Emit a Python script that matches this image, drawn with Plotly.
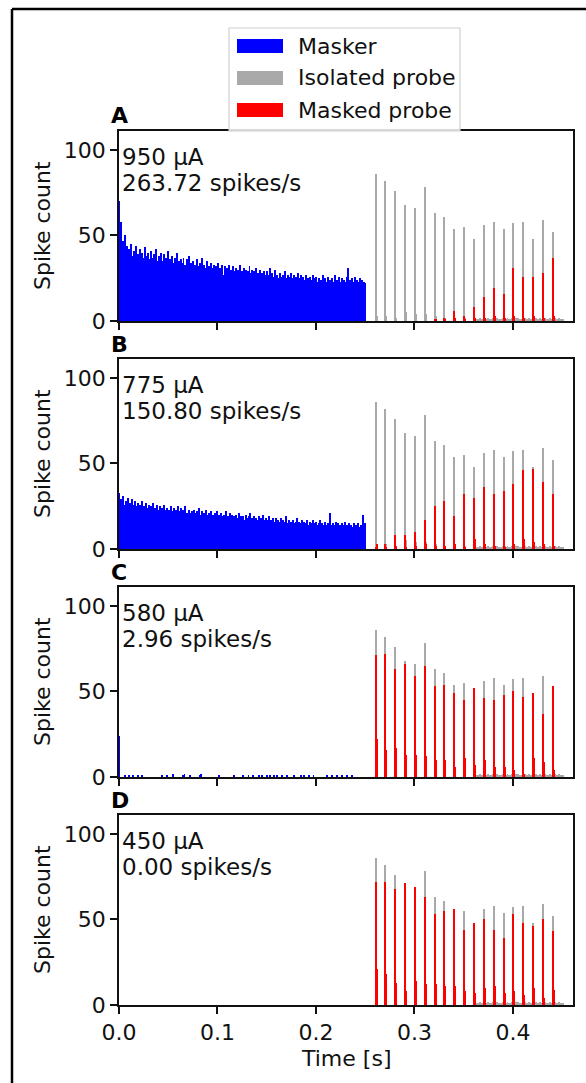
import plotly.graph_objects as go

W, H = 586, 1083

# masker PSTH, 1 ms bins from 0 to 0.25 s
masker_a = [
    70, 30, 58, 41, 47, 23, 50, 36, 44, 39, 42, 35, 45, 38, 33, 41, 37, 44, 34, 39, 36, 42, 33, 40, 37,
    35, 43, 31, 38, 40, 34, 36, 41, 30, 37, 39, 33, 42, 35, 31, 38, 36, 40, 32, 35, 39, 30, 37, 34, 41,
    33, 36, 29, 38, 34, 31, 37, 33, 40, 30, 35, 32, 36, 28, 34, 37, 31, 33, 29, 36, 32, 38, 30, 34, 31,
    35, 29, 33, 31, 36, 28, 32, 34, 30, 37, 29, 33, 31, 27, 35, 30, 32, 28, 34, 31, 29, 33, 27, 32, 30,
    34, 28, 31, 29, 33, 27, 18, 32, 29, 31, 26, 33, 28, 30, 27, 32, 29, 26, 31, 28, 30, 25, 33, 27, 29,
    28, 31, 26, 30, 24, 29, 27, 32, 25, 28, 30, 26, 29, 24, 31, 27, 28, 25, 30, 26, 28, 23, 29, 27, 25,
    29, 24, 27, 31, 25, 28, 23, 26, 30, 24, 27, 25, 22, 28, 26, 6, 27, 24, 29, 25, 23, 27, 26, 24, 28,
    25, 22, 27, 24, 26, 21, 28, 23, 25, 27, 22, 26, 24, 20, 27, 23, 25, 22, 26, 24, 21, 27, 23, 25, 22,
    26, 23, 21, 25, 13, 24, 22, 27, 20, 25, 23, 21, 26, 22, 24, 19, 25, 23, 21, 27, 22, 24, 20, 26, 23,
    21, 25, 22, 24, 20, 23, 26, 31, 22, 24, 20, 25, 23, 21, 26, 22, 24, 19, 23, 25, 21, 24, 22, 23, 22,
]
masker_b = [
    33, 20, 29, 24, 31, 26, 22, 28, 25, 30, 23, 27, 24, 29, 22, 26, 28, 23, 25, 27, 21, 26, 24, 28, 22,
    25, 23, 27, 21, 24, 26, 20, 25, 23, 27, 22, 24, 21, 26, 23, 20, 25, 22, 24, 21, 26, 23, 19, 24, 22,
    23, 20, 25, 22, 19, 24, 21, 23, 20, 25, 18, 22, 24, 20, 23, 19, 22, 25, 20, 21, 18, 23, 21, 19, 22,
    20, 23, 18, 21, 22, 19, 24, 20, 17, 22, 19, 21, 18, 23, 20, 17, 21, 19, 22, 18, 20, 17, 21, 19, 22,
    18, 20, 17, 21, 19, 16, 20, 18, 22, 17, 19, 16, 21, 18, 20, 15, 19, 17, 20, 16, 18, 21, 17, 19, 16,
    19, 17, 15, 20, 18, 16, 19, 17, 21, 15, 18, 16, 19, 14, 18, 17, 15, 19, 16, 18, 15, 20, 17, 16, 18,
    15, 17, 19, 14, 17, 15, 18, 16, 14, 18, 15, 17, 13, 16, 18, 15, 17, 14, 16, 19, 15, 13, 17, 15, 16,
    14, 17, 15, 13, 16, 18, 14, 16, 13, 15, 17, 14, 16, 12, 15, 17, 14, 13, 16, 15, 12, 17, 14, 15, 13,
    16, 14, 12, 15, 17, 13, 15, 14, 12, 16, 14, 13, 15, 12, 21, 14, 13, 15, 12, 14, 16, 13, 15, 12, 14,
    13, 15, 12, 14, 16, 11, 14, 13, 15, 12, 14, 13, 11, 15, 13, 14, 12, 15, 13, 11, 14, 12, 20, 13, 15,
]
# panel C masker is almost silent: only the non-empty bins (ms index)
masker_c_bins = [0, 6, 10, 14, 19, 23, 43, 48, 54, 64, 66, 72, 82, 83, 101, 116, 125, 131, 136,
                 142, 145, 150, 153, 157, 160, 165, 170, 177, 184, 187, 192, 197, 211, 216, 221,
                 226, 231, 236]
masker_c_counts = [24, 1, 1, 1, 1, 1, 1, 1, 2, 1, 2, 1, 1, 2, 1, 1, 1, 1, 1,
                   1, 1, 1, 1, 1, 1, 1, 1, 1, 1, 1, 1, 1, 1, 1, 1,
                   1, 1, 1]

# probe pulse onsets [s]
probe_onsets = [0.26, 0.27, 0.28, 0.29, 0.30, 0.31, 0.32, 0.33, 0.34, 0.35,
                0.36, 0.37, 0.38, 0.39, 0.40, 0.41, 0.42, 0.43, 0.44]

# isolated probe (same in every panel): first and second bin after each pulse
iso_peak = [86, 82, 76, 68, 66, 78, 63, 61, 54, 55, 48, 56, 58, 54, 57, 58, 48, 59, 52]
iso_second = [3, 3, 2, 5, 4, 4, 3, 2, 2, 2, 1, 2, 1, 2, 2, 1, 2, 1, 2]
iso_tail_ms = [362, 364, 366, 368, 372, 374, 375, 377, 379, 382, 383, 385, 387, 389,
               392, 394, 396, 397, 399, 402, 403, 405, 407, 409, 412, 414, 416, 418,
               422, 423, 425, 427, 429, 432, 434, 435, 437, 439, 442, 444, 446, 448, 450]
iso_tail_counts = [1, 1, 2, 1, 1, 2, 1, 1, 2, 1, 2, 1, 1, 2,
                   1, 2, 1, 1, 2, 1, 2, 2, 1, 1, 2, 1, 2, 1,
                   1, 2, 1, 2, 1, 2, 1, 1, 2, 1, 2, 1, 2, 1, 1]

# masked probe per panel
masked_peak_a = [0, 0, 0, 0, 0, 0, 1, 2, 6, 3, 8, 14, 19, 16, 31, 26, 26, 28, 37]
masked_second_a = [0, 0, 0, 0, 0, 0, 1, 1, 2, 1, 2, 2, 3, 2, 3, 2, 3, 2, 3]
masked_peak_b = [1, 3, 8, 8, 10, 17, 25, 28, 19, 32, 30, 36, 32, 34, 38, 46, 47, 39, 32]
masked_second_b = [3, 1, 2, 1, 2, 3, 2, 2, 3, 1, 6, 3, 2, 1, 3, 6, 4, 3, 2]
masked_peak_c = [71, 72, 63, 66, 59, 65, 53, 54, 49, 45, 52, 46, 45, 48, 50, 47, 49, 37, 53]
masked_second_c = [22, 16, 17, 13, 13, 12, 10, 10, 6, 11, 7, 10, 6, 6, 4, 2, 11, 9, 4]
masked_peak_d = [72, 72, 68, 71, 69, 63, 53, 55, 56, 44, 48, 50, 44, 39, 53, 48, 46, 50, 43]
masked_second_d = [21, 18, 13, 8, 14, 12, 12, 11, 11, 8, 7, 10, 11, 7, 8, 6, 10, 4, 9]

panel_letters = ["A", "B", "C", "D"]
currents = ["950 µA", "775 µA", "580 µA", "450 µA"]
rates = ["263.72 spikes/s", "150.80 spikes/s", "2.96 spikes/s", "0.00 spikes/s"]
x_ticks = [0.0, 0.1, 0.2, 0.3, 0.4]
x_ticktext = ["0.0", "0.1", "0.2", "0.3", "0.4"]
y_ticks = [0, 50, 100]

BLUE, GRAY, RED = "#0000ff", "#a9a9a9", "#ff0000"
FONT = "DejaVu Sans"
FS = 22


def px(x):
    return x / W


def py(y):
    return 1 - y / H


# build masker series for each panel
masker_c = [0] * 250
for b, c in zip(masker_c_bins, masker_c_counts):
    masker_c[b] = c
maskers = [masker_a, masker_b, masker_c, []]
masked = [(masked_peak_a, masked_second_a), (masked_peak_b, masked_second_b),
          (masked_peak_c, masked_second_c), (masked_peak_d, masked_second_d)]

# isolated probe histogram (x = bin centres)
iso_x = [t + 0.0005 for t in probe_onsets] + [t + 0.0015 for t in probe_onsets] \
    + [m * 0.001 + 0.0005 for m in iso_tail_ms]
iso_y = iso_peak + iso_second + iso_tail_counts

fig = go.Figure()

# axes geometry in pixels (top of each panel)
panel_top = [131, 359, 587, 815]
panel_h = 190
x_left, x_right = 119, 573

for i in range(4):
    sfx = "" if i == 0 else str(i + 1)
    xa, ya = "x" + sfx, "y" + sfx
    m = maskers[i]
    if m:
        fig.add_trace(go.Bar(x=[(k + 0.5) * 0.001 for k in range(len(m))], y=m, width=0.001,
                             marker=dict(color=BLUE, line=dict(width=0)), name="Masker",
                             showlegend=False, xaxis=xa, yaxis=ya))
    fig.add_trace(go.Bar(x=iso_x, y=iso_y, width=0.001,
                         marker=dict(color=GRAY, line=dict(width=0)), name="Isolated probe",
                         showlegend=False, xaxis=xa, yaxis=ya))
    pk, sc = masked[i]
    fig.add_trace(go.Bar(x=[t + 0.0005 for t in probe_onsets] + [t + 0.0015 for t in probe_onsets],
                         y=pk + sc, width=0.001,
                         marker=dict(color=RED, line=dict(width=0)), name="Masked probe",
                         showlegend=False, xaxis=xa, yaxis=ya))

    top = panel_top[i]
    bot = top + panel_h
    axis_style = dict(showline=True, mirror=True, linecolor="#111", linewidth=1.6,
                      ticks="outside", ticklen=7, tickwidth=1.6, tickcolor="#111",
                      showgrid=False, zeroline=False, automargin=False,
                      tickfont=dict(family=FONT, size=FS, color="#111"))
    fig.layout["xaxis" + sfx] = dict(
        domain=[px(x_left), px(x_right)], range=[0, 0.461], anchor=ya,
        tickvals=x_ticks, ticktext=x_ticktext if i == 3 else [""] * 5, **axis_style)
    fig.layout["yaxis" + sfx] = dict(
        domain=[py(bot), py(top)], range=[0, 111], anchor=xa,
        tickvals=y_ticks, **axis_style)

    # panel letter, y label, annotation text
    fig.add_annotation(x=px(109), y=py(top - 15), xref="paper", yref="paper",
                       text="<b>" + panel_letters[i] + "</b>", showarrow=False,
                       xanchor="left", yanchor="middle",
                       font=dict(family=FONT, size=FS, color="#000"))
    fig.add_annotation(x=px(42), y=py(top + panel_h / 2), xref="paper", yref="paper",
                       text="Spike count", textangle=-90, showarrow=False,
                       xanchor="center", yanchor="middle",
                       font=dict(family=FONT, size=FS, color="#111"))
    fig.add_annotation(x=px(120), y=py(top + 26), xref="paper", yref="paper",
                       text=currents[i], showarrow=False,
                       xanchor="left", yanchor="middle",
                       font=dict(family=FONT, size=23, color="#111"))
    fig.add_annotation(x=px(120), y=py(top + 52), xref="paper", yref="paper",
                       text=rates[i], showarrow=False,
                       xanchor="left", yanchor="middle",
                       font=dict(family=FONT, size=23, color="#111"))

fig.add_annotation(x=px((x_left + x_right) / 2), y=py(1058), xref="paper", yref="paper",
                   text="Time [s]", showarrow=False, xanchor="center", yanchor="middle",
                   font=dict(family=FONT, size=FS, color="#111"))

# outer frame (left and top edges visible)
fig.add_shape(type="line", xref="paper", yref="paper", x0=px(12), x1=px(12),
              y0=0, y1=py(9), line=dict(color="#000", width=2.5), layer="above")
fig.add_shape(type="line", xref="paper", yref="paper", x0=px(12), x1=1,
              y0=py(9), y1=py(9), line=dict(color="#000", width=2.5), layer="above")

# legend drawn by hand, matplotlib style
fig.add_shape(type="rect", xref="paper", yref="paper", x0=px(229), x1=px(460),
              y0=py(131), y1=py(28), line=dict(color="#d0d0d0", width=1.2),
              fillcolor="rgba(255,255,255,0.85)", layer="above")
for k, (lab, col) in enumerate([("Masker", BLUE), ("Isolated probe", GRAY), ("Masked probe", RED)]):
    yc = 46 + 32 * k
    fig.add_shape(type="rect", xref="paper", yref="paper", x0=px(237), x1=px(283),
                  y0=py(yc + 7), y1=py(yc - 7), line=dict(width=0), fillcolor=col, layer="above")
    fig.add_annotation(x=px(296), y=py(yc), xref="paper", yref="paper", text=lab,
                       showarrow=False, xanchor="left", yanchor="middle",
                       font=dict(family=FONT, size=FS, color="#111"))

fig.update_layout(width=W, height=H, autosize=False,
                  margin=dict(l=0, r=0, t=0, b=0, autoexpand=False),
                  barmode="overlay", bargap=0, plot_bgcolor="white", paper_bgcolor="white",
                  showlegend=False)

fig.write_html("out.html", config={"displayModeBar": False},
               post_script="document.body.style.margin='0';"
                           "document.body.style.overflow='hidden';")
